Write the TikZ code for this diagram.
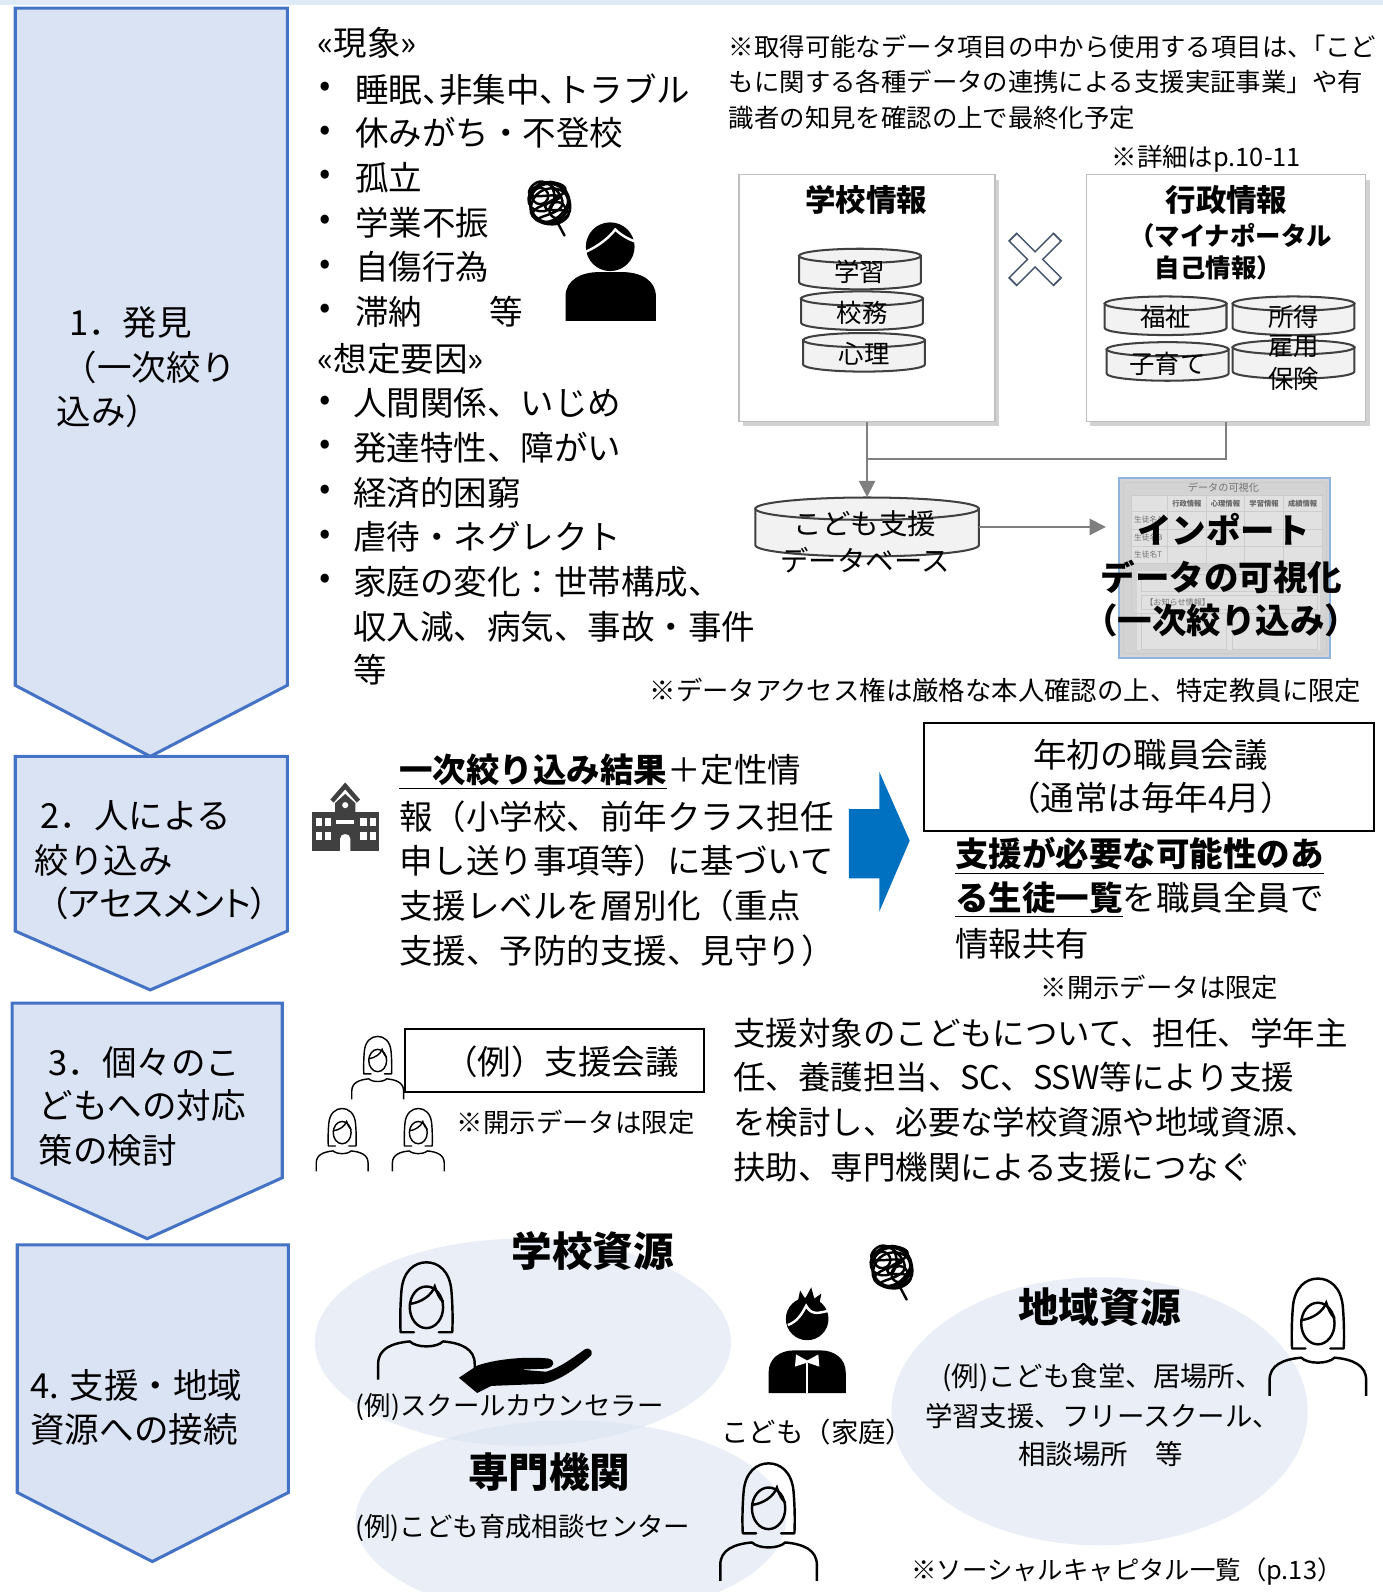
\documentclass[tikz,border=0pt]{standalone}
\usepackage{fontspec}
\setmainfont{Noto Sans CJK JP}
\usetikzlibrary{arrows.meta,fit}
\newcommand{\setfs}[2]{\fontsize{#1}{#2}\selectfont}
\newcommand{\halfpunct}{\addfontfeature{RawFeature=+halt}}
\newcommand{\propkana}{\addfontfeature{RawFeature=+palt}}

\definecolor{chevfill}{HTML}{DAE3F3}
\definecolor{chevline}{HTML}{4472C4}
\definecolor{topband}{HTML}{DEEBF7}
\definecolor{boxline}{HTML}{BFBFBF}
\definecolor{cylfill}{HTML}{F2F2F2}
\definecolor{cylline}{HTML}{404040}
\definecolor{connline}{HTML}{7F7F7F}
\definecolor{bigarrow}{HTML}{0070C0}
\definecolor{crossline}{HTML}{44546A}
\definecolor{blob}{HTML}{D8E2F1}
\definecolor{vizline}{HTML}{8FB4DE}
\definecolor{vizfill}{HTML}{D3D3D3}
\definecolor{iconfill}{HTML}{404040}

% database disk: name, centre x, top y, bottom y, x radius, y radius
\newcommand{\dbdisk}[6]{%
  \pgfmathsetmacro\dbL{#2-#5}\pgfmathsetmacro\dbR{#2+#5}%
  \pgfmathsetmacro\dbKx{0.5523*#5}\pgfmathsetmacro\dbKy{0.5523*#6}%
  \filldraw[cyl] (\dbL,#3) -- (\dbL,#4) .. controls (\dbL,#4+\dbKy) and (#2-\dbKx,#4+#6) .. (#2,#4+#6)
     .. controls (#2+\dbKx,#4+#6) and (\dbR,#4+\dbKy) .. (\dbR,#4) -- (\dbR,#3) -- cycle;
  \filldraw[cyl] (#2,#3) ellipse [x radius=#5, y radius=#6];
  \coordinate (#1-nw) at (\dbL,#3-#6);
  \coordinate (#1-se) at (\dbR,#4+#6);
  \node[fit=(#1-nw)(#1-se), inner sep=0pt] (#1) {};
}

\begin{document}
\begin{tikzpicture}[x=0.5pt,y=-0.5pt,
  txtl/.style={inner sep=0pt, outer sep=0pt, anchor=west},
  txtc/.style={inner sep=0pt, outer sep=0pt, anchor=center},
  fA/.style={font=\setfs{16.5}{20}},
  fB/.style={font=\setfs{16}{20}},
  fK/.style={font=\setfs{17}{20}},
  fN/.style={font=\setfs{12.5}{15}},
  fC/.style={font=\setfs{13}{16}},
  fS/.style={font=\setfs{13.5}{16}},
  fD/.style={font=\setfs{14}{17}},
  fH/.style={font=\bfseries\setfs{20}{24}},
  fT/.style={font=\bfseries\setfs{15}{18}},
  chev/.style={fill=chevfill, draw=chevline, line width=1.5pt, line join=miter},
  infobox/.style={draw=boxline, fill=white, line width=0.8pt, inner sep=0pt},
  cyl/.style={fill=cylfill, draw=cylline, line width=1pt},
  conn/.style={draw=connline, line width=1pt},
  tip/.style={-{Triangle[length=8pt,width=8pt]}},
  blobfill/.style={fill=blob, opacity=0.55},
  woman/.pic={
    \draw[line join=round, line cap=round] (-15,38) -- (-31,38)
       .. controls (-32,20) and (-31,0) .. (-30,-12)
       .. controls (-28,-36) and (-14,-46) .. (0,-46)
       .. controls (14,-46) and (28,-36) .. (30,-12)
       .. controls (31,0) and (32,20) .. (31,38) -- (15,38);
    \draw (0,8) ellipse [x radius=20, y radius=25];
    \draw[line cap=round] (-20,4) .. controls (-6,2) and (6,-6) .. (10,-17)
       .. controls (13,-8) and (16,-2) .. (20,1);
    \draw[line join=round] (-58,95) -- (-58,76) .. controls (-58,58) and (-42,51) .. (-20,49)
       .. controls (-12,57) and (12,57) .. (20,49)
       .. controls (42,51) and (58,58) .. (58,76) -- (58,95);
  },
  tangle/.pic={
    \draw[line join=round] plot[smooth, tension=0.9] coordinates {(0,-21) (16,-13) (-4,4) (19,9)
      (3,21) (-16,9) (10,-6) (-19,-8) (-6,-21) (13,1) (-11,16) (7,15) (18,-5) (-2,-14)
      (-18,3) (-8,19) (14,16) (20,-2) (8,-18) (-12,-17) (-20,0) (-5,8) (5,-4) (0,-21)};
    \draw (0,0) circle [radius=19];
    \draw (-9,-7) circle [radius=8];
    \draw (8,7) circle [radius=8];
    \draw[line cap=round] (8,19) -- (15,32);
  }
]
\useasboundingbox (0,0) rectangle (1362,1568);
\fill[topband] (0,0) rectangle (1362,5);

% ---------- step chevrons ----------
\draw[chev] (15,8) -- (283,8) -- (283,675) -- (148,745) -- (15,675) -- cycle;
\draw[chev] (15,745) -- (283,745) -- (283,917) -- (148,975) -- (15,917) -- cycle;
\draw[chev] (12,988) -- (278,988) -- (278,1160) -- (145,1220) -- (12,1160) -- cycle;
\draw[chev] (17,1226) -- (284,1226) -- (284,1470) -- (150,1538) -- (17,1470) -- cycle;

\node[txtl,fK] (s1a) at (68,318) {1．発見};
\node[txtl,fK] (s1b) at (62,362) {（一次絞り};
\node[txtl,fK] (s1c) at (56,405) {込み）};
\node[txtl,fK] (s2a) at (40,803) {2．人による};
\node[txtl,fK] (s2b) at (34,847) {絞り込み};
\node[txtl,fK] (s2c) at (50,890) {\propkana（アセスメント）};
\node[txtl,fK] (s3a) at (48,1046) {3．個々のこ};
\node[txtl,fK] (s3b) at (38,1089) {どもへの対応};
\node[txtl,fK] (s3c) at (38,1133) {策の検討};
\node[txtl,fK] (s4a) at (30,1365) {4. 支援・地域};
\node[txtl,fK] (s4b) at (30,1408) {資源への接続};

% ---------- 1. phenomena and assumed causes ----------
\node[txtl,fA] (phen) at (313,42) {«現象»};
\foreach \y/\s [count=\i] in {88/{\halfpunct 睡眠、非集中、トラブル},131/休みがち・不登校,175/孤立,
    219/学業不振,263/自傷行為,307/滞納　　等}{
  \node[txtc,fA] (pb\i) at (320,\y) {•};
  \node[txtl,fA] (pi\i) at (350,\y) {\s};
}
\node[txtl,fA] (cause) at (313,353) {«想定要因»};
\foreach \y/\s [count=\i] in {397/人間関係、いじめ,441/発達特性、障がい,485/経済的困窮,
    529/虐待・ネグレクト,573/家庭の変化：世帯構成、}{
  \node[txtc,fA] (cb\i) at (320,\y) {•};
  \node[txtl,fA] (ci\i) at (348,\y) {\s};
}
\node[txtl,fA] (ci6) at (348,617) {収入減、病気、事故・事件};
\node[txtl,fA] (ci7) at (348,660) {等};

% worried person
\pic[line width=1.2pt] at (541,200) {tangle};
\fill (601,243) circle [radius=24];
\draw[white, line width=1.2pt] (577,248) .. controls (590,242) and (600,234) .. (606,226)
   .. controls (612,232) and (620,236) .. (626,238);
\fill (557,316) -- (557,292) .. controls (557,276) and (572,268) .. (590,268) -- (613,268)
   .. controls (631,268) and (646,276) .. (646,292) -- (646,316) -- cycle;

% ---------- data sources ----------
\node[txtl,fN] (note1a) at (718,46) {※取得可能なデータ項目の中から使用する項目は、{\halfpunct「}こど};
\node[txtl,fN] (note1b) at (718,81) {もに関する各種データの連携による支援実証事業」や有};
\node[txtl,fN] (note1c) at (718,116) {識者の知見を確認の上で最終化予定};
\node[txtl,fN] (note2) at (1095,156) {※詳細はp.10-11};

\fill[black!35, opacity=0.5] (732,177) rectangle (984,420);
\fill[black!35, opacity=0.5] (1074,177) rectangle (1349,420);
\node[infobox, fit={(728,172) (980,415)}] (school) {};
\node[infobox, fit={(1070,172) (1345,415)}] (admin) {};

\node[txtc,fT] (schoolt) at (853,197) {学校情報};
\node[txtc,fT] (admint) at (1208,197) {行政情報};
\node[txtc,font=\bfseries\setfs{12.5}{15}] (admins1) at (1212,232) {（マイナポータル};
\node[txtc,font=\bfseries\setfs{12.5}{15}] (admins2) at (1200,264) {自己情報）};

\dbdisk{dgk}{847}{252}{278}{60}{7}
\node[txtc,fN] (dgkt) at (847,268) {学習};
\dbdisk{dkm}{849}{294}{318}{60}{7}
\node[txtc,fN] (dkmt) at (849,308) {校務};
\dbdisk{dsr}{851}{335}{359}{60}{7}
\node[txtc,fN] (dsrt) at (851,348) {心理};

\dbdisk{dfk}{1148}{299}{323}{60}{7}
\node[txtc,fN] (dfkt) at (1148,312) {福祉};
\dbdisk{dsh}{1274}{299}{323}{60}{7}
\node[txtc,fN] (dsht) at (1274,312) {所得};
\dbdisk{dks}{1150}{344}{368}{60}{7}
\node[txtc,fN] (dkst) at (1150,358) {子育て};
\dbdisk{dkh}{1274}{342}{366}{60}{7}
\node[txtc,fN] (dkht1) at (1274,341) {雇用};
\node[txtc,fN] (dkht2) at (1274,373) {保険};

% cross mark
\draw[crossline, line width=6pt] (997,233) -- (1042,278);
\draw[crossline, line width=6pt] (1042,233) -- (997,278);
\draw[white, line width=4.4pt, shorten <=1pt, shorten >=1pt] (997,233) -- (1042,278);
\draw[white, line width=4.4pt, shorten <=1pt, shorten >=1pt] (1042,233) -- (997,278);

% child support database
\dbdisk{db}{854}{501}{537}{110}{11}
\node[txtc,fD] (dbt1) at (852,516) {こども支援};
\node[txtc,fD] (dbt2) at (852,552) {データベース};

\coordinate (jn) at (854,452);
\draw[conn] (school.south) -- (jn) -| (admin.south);
\draw[conn, tip] (jn) -- (db.north);

% visualisation screen
\node[fit={(1102,471) (1310,648)}, draw=vizline, fill=vizfill, line width=0.8pt, inner sep=0pt] (viz) {};
\draw[conn, tip, shorten >=6pt] (db.east) -- (db.east -| viz.west);
\begin{scope}[draw=white!80!black, line width=0.4pt]
  \draw (1106,475) rectangle (1306,644);
  \node[txtc, font=\setfs{5}{6}, text=black!55] (vizt) at (1205,480) {データの可視化};
  \fill[black!8, opacity=0.6] (1114,488) rectangle (1302,555);
  \foreach \xx in {1114,1150,1188,1226,1264,1302} \draw (\xx,488) -- (\xx,555);
  \foreach \yy in {488,504,521,538,555} \draw (1114,\yy) -- (1302,\yy);
  \foreach \xx/\s in {1169/行政情報,1207/心理情報,1245/学習情報,1283/成績情報}
    \node[txtc, font=\bfseries\setfs{3.6}{4}, text=black!60] at (\xx,496) {\s};
  \foreach \yy/\s in {512/生徒名A,529/生徒名B,546/生徒名T}
    \node[txtl, font=\setfs{3.8}{4}, text=black!55] at (1117,\yy) {\s};
  \fill[black!8, opacity=0.6] (1120,562) rectangle (1300,640);
  \draw (1124,566) rectangle (1298,582);
  \draw (1124,586) rectangle (1298,600);
  \node[txtl, font=\setfs{4}{5}, text=black!55] at (1128,593) {【お知らせ情報】};
  \draw (1124,604) rectangle (1208,640);
  \draw (1214,604) rectangle (1298,640);
  \draw (1114,560) -- (1114,604) -- (1124,604);
\end{scope}
\node[txtc,font=\bfseries\setfs{17}{20}] (vizb1) at (1205,522) {インポート};
\node[txtc,font=\bfseries\setfs{17}{20}] (vizb2) at (1203,568) {データの可視化};
\node[txtc,font=\bfseries\setfs{17}{20}] (vizb3) at (1203,611) {（一次絞り込み）};

\node[txtl,fC] (access) at (640,680) {※データアクセス権は厳格な本人確認の上、特定教員に限定};

% ---------- 2. assessment by staff ----------
\begin{scope}[iconfill]
  \draw[iconfill, line width=2.2pt, line join=miter] (327,789) -- (340,774) -- (353,789);
  \fill (330,800) -- (330,791) -- (340,782) -- (350,791) -- (350,800) -- cycle;
  \fill (307,800) rectangle (373,838);
  \fill[white] (340,793) circle [radius=3];
  \foreach \xx in {311,320,355,364}
    \foreach \yy in {806,819} \fill[white] (\xx,\yy) rectangle ++(6,8);
  \fill[white] (331,808) rectangle (349,812);
  \fill[white] (335,838) -- (335,826) .. controls (335,820) and (345,820) .. (345,826) -- (345,838) -- cycle;
\end{scope}

\node[txtl,fA] (r2a) at (393,760) {\underline{\textbf{一次絞り込み結果}}＋定性情};
\node[txtl,fA] (r2b) at (393,804) {報（小学校、前年クラス担任};
\node[txtl,fA] (r2c) at (393,848) {申し送り事項等）に基づいて};
\node[txtl,fA] (r2d) at (393,892) {支援レベルを層別化（重点};
\node[txtl,fA] (r2e) at (393,936) {支援、予防的支援、見守り）};

\fill[bigarrow] (836,797) -- (866,797) -- (866,760) -- (896,828) -- (866,898) -- (866,865) -- (836,865) -- cycle;

\node[fit={(910,712) (1353,818)}, draw=black, line width=1pt, inner sep=0pt] (staffmtg) {};
\node[txtc,fA] (smt1) at (1133,743) {年初の職員会議};
\node[txtc,fA] (smt2) at (1133,786) {（通常は毎年4月）};
\node[txtl,fA] (sh1) at (941,843) {\underline{\textbf{支援が必要な可能性のあ}}};
\node[txtl,fA] (sh2) at (941,886) {\underline{\textbf{る生徒一覧}}を職員全員で};
\node[txtl,fA] (sh3) at (941,930) {情報共有};
\node[txtc,fC] (disc1) at (1142,972) {※開示データは限定};

% ---------- 3. individual response ----------
\pic[scale=0.44, line width=0.7pt] at (372,1041) {woman};
\pic[scale=0.44, line width=0.7pt] at (337,1112) {woman};
\pic[scale=0.44, line width=0.7pt] at (412,1112) {woman};
\node[fit={(399,1013) (693,1076)}, draw=black, fill=white, line width=1pt, inner sep=0pt] (supmtg) {};
\node[txtc,fA] (supmtgt) at (553,1046) {（例）支援会議};
\node[txtc,fC] (disc2) at (567,1105) {※開示データは限定};

\node[txtl,fB] (r3a) at (722,1018) {支援対象のこどもについて、担任、学年主};
\node[txtl,fB] (r3b) at (722,1061) {任、養護担当、SC、SSW等により支援};
\node[txtl,fB] (r3c) at (722,1105) {を検討し、必要な学校資源や地域資源、};
\node[txtl,fB] (r3d) at (722,1150) {扶助、専門機関による支援につなぐ};

% ---------- 4. connecting to resources ----------
\fill[blobfill] (515,1322) ellipse [x radius=205, y radius=102];
\fill[blobfill] (562,1497) ellipse [x radius=212, y radius=98];
\fill[blobfill] (1083,1390) ellipse [x radius=205, y radius=132];

\node[txtc,fH] (schres) at (584,1232) {学校資源};
\pic[scale=0.82, line width=1.2pt] at (420,1281) {woman};
\fill (452,1357) -- (470,1345) .. controls (490,1338) and (520,1336) .. (540,1338)
   .. controls (548,1340) and (546,1347) .. (538,1348) -- (512,1349) -- (538,1351)
   .. controls (552,1347) and (566,1336) .. (576,1329)
   .. controls (582,1326) and (586,1333) .. (580,1337)
   .. controls (565,1350) and (550,1360) .. (535,1363) -- (484,1365) -- (470,1372) -- cycle;
\node[txtc,fC] (schresx) at (502,1386) {(例)スクールカウンセラー};

\node[txtc,fH] (proorg) at (541,1450) {専門機関};
\node[txtc,fC] (proorgx) at (515,1505) {(例)こども育成相談センター};

% child with worries
\pic[line width=1.2pt] at (878,1248) {tangle};
\fill (795,1299) circle [radius=21];
\fill (786,1281) -- (788,1271) -- (793,1279) -- (799,1268) -- (802,1279) -- (809,1274) -- (807,1284) -- cycle;
\draw[white, line width=1.2pt] (776,1305) .. controls (785,1302) and (790,1294) .. (794,1286)
   .. controls (799,1296) and (807,1293) .. (816,1291);
\fill (757,1372) -- (757,1352) .. controls (757,1338) and (768,1330) .. (782,1330) -- (808,1330)
   .. controls (822,1330) and (833,1338) .. (833,1352) -- (833,1372) -- cycle;
\fill[white] (784,1334) -- (795,1340) -- (806,1334) -- (807,1346) -- (795,1342) -- (783,1346) -- cycle;
\draw[white, line width=1pt] (795,1342) -- (795,1372);
\node[txtc,fS] (child) at (805,1410) {こども（家庭）};
\pic[scale=0.82, line width=1.2pt] at (757,1479) {woman};

\node[txtc,fH] (locres) at (1083,1287) {地域資源};
\node[txtc,fS] (locres1) at (1086,1357) {(例)こども食堂、居場所、};
\node[txtc,fS] (locres2) at (1086,1395) {学習支援、フリースクール、};
\node[txtc,fS] (locres3) at (1084,1432) {相談場所　等};
\pic[scale=0.82, line width=1.2pt] at (1298,1297) {woman};

\node[txtc,fN] (social) at (1110,1548) {※ソーシャルキャピタル一覧（p.13）};
\end{tikzpicture}
\end{document}
